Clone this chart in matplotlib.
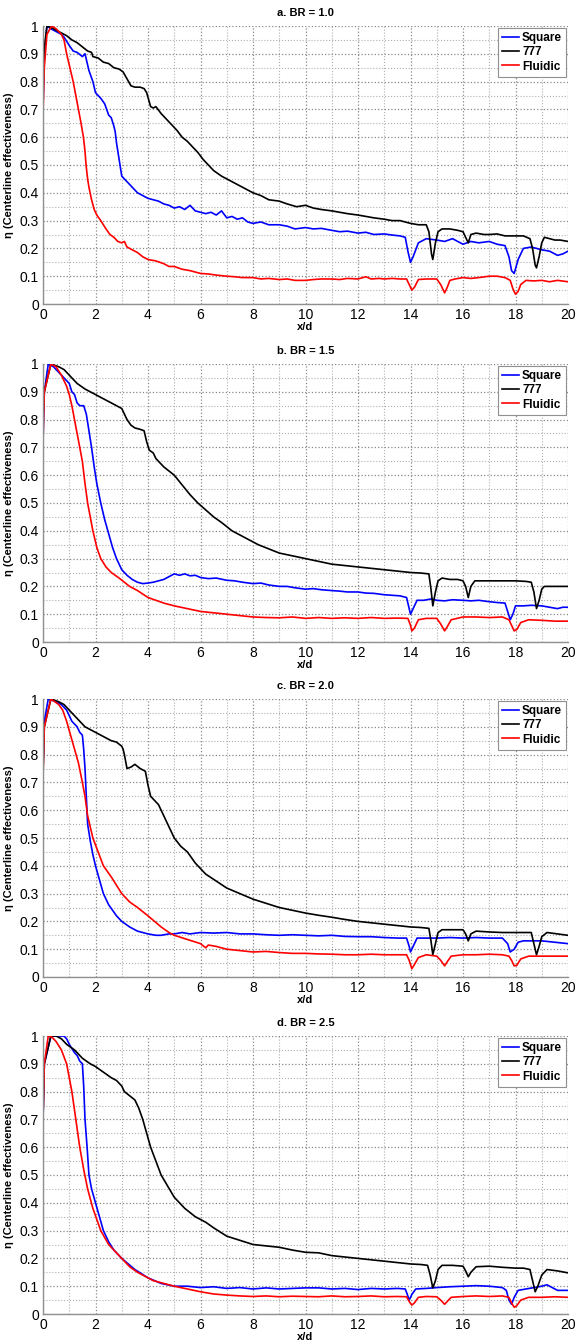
import numpy as np
import matplotlib
matplotlib.use("Agg")
import matplotlib.pyplot as plt
from matplotlib.ticker import MultipleLocator

plt.rcParams['font.family'] = ['Liberation Sans', 'DejaVu Sans']

# panel titles / series
titles = ['a. BR = 1.0', 'b. BR = 1.5', 'c. BR = 2.0', 'd. BR = 2.5']
names = ['Square', '777', 'Fluidic']
colors = ['#0000ff', '#000000', '#ff0000']

# (x/d, eta) pairs
# ---- a. BR = 1.0
a_square = [(0, 0.70), (0.05, 0.9), (0.15, 1.0), (0.3, 0.99), (0.5, 0.98), (0.7, 0.97), (0.8, 0.96), (1.0, 0.93), (1.15, 0.91), (1.3, 0.905), (1.5, 0.89), (1.6, 0.9), (1.65, 0.88), (1.75, 0.84), (1.9, 0.80), (2.0, 0.76), (2.1, 0.75), (2.2, 0.74), (2.35, 0.72), (2.5, 0.68), (2.6, 0.67), (2.7, 0.64), (2.75, 0.62), (2.8, 0.58), (2.9, 0.52),
            (3.0, 0.46), (3.2, 0.44), (3.4, 0.42), (3.6, 0.40), (3.8, 0.39), (4.0, 0.38), (4.2, 0.375), (4.4, 0.37), (4.6, 0.36), (4.8, 0.355), (5.0, 0.345), (5.2, 0.35), (5.4, 0.34), (5.6, 0.355), (5.8, 0.335), (6.0, 0.33), (6.2, 0.325), (6.4, 0.33), (6.6, 0.32), (6.8, 0.335), (7.0, 0.31), (7.2, 0.315), (7.4, 0.305), (7.6, 0.31), (7.8, 0.295), (8.0, 0.29),
            (8.3, 0.295), (8.6, 0.285), (9.0, 0.285), (9.3, 0.28), (9.6, 0.27), (10.0, 0.275), (10.3, 0.27), (10.6, 0.272), (11.0, 0.265), (11.3, 0.26), (11.6, 0.262), (12.0, 0.255), (12.3, 0.258), (12.6, 0.25), (13.0, 0.252), (13.3, 0.248), (13.6, 0.245), (13.8, 0.24), (13.9, 0.19), (14.0, 0.15), (14.1, 0.17), (14.3, 0.22), (14.6, 0.235),
            (15.0, 0.23), (15.3, 0.225), (15.6, 0.235), (16.0, 0.215), (16.3, 0.225), (16.6, 0.22), (17.0, 0.225), (17.3, 0.215), (17.6, 0.21), (17.75, 0.17), (17.85, 0.12), (17.95, 0.11), (18.1, 0.16), (18.3, 0.2), (18.6, 0.205), (19.0, 0.195), (19.3, 0.19), (19.6, 0.175), (19.8, 0.18), (20.0, 0.19)]
a_777 = [(0, 0.75), (0.05, 0.92), (0.15, 1.0), (0.3, 0.995), (0.5, 0.985), (0.7, 0.975), (0.9, 0.965), (1.1, 0.95), (1.3, 0.94), (1.5, 0.925), (1.7, 0.91), (1.85, 0.905), (1.9, 0.89), (2.1, 0.885), (2.3, 0.87), (2.5, 0.865), (2.7, 0.85), (2.9, 0.845), (3.05, 0.835), (3.2, 0.81), (3.35, 0.785), (3.5, 0.78), (3.7, 0.78), (3.85, 0.775), (3.95, 0.76),
         (4.1, 0.71), (4.2, 0.705), (4.3, 0.71), (4.5, 0.685), (4.7, 0.665), (4.9, 0.645), (5.1, 0.625), (5.3, 0.60), (5.5, 0.585), (5.7, 0.565), (5.9, 0.545), (6.1, 0.52), (6.3, 0.5), (6.5, 0.48), (6.8, 0.46), (7.0, 0.45), (7.3, 0.435), (7.6, 0.42), (8.0, 0.40), (8.3, 0.39), (8.6, 0.375), (9.0, 0.37), (9.3, 0.36), (9.66, 0.35),
         (10.0, 0.355), (10.3, 0.345), (10.6, 0.34), (11.0, 0.335), (11.3, 0.33), (11.6, 0.325), (12.0, 0.32), (12.3, 0.315), (12.6, 0.31), (13.0, 0.305), (13.3, 0.3), (13.6, 0.3), (14.0, 0.29), (14.3, 0.285), (14.6, 0.285), (14.7, 0.26), (14.8, 0.18), (14.85, 0.16), (14.95, 0.22), (15.05, 0.26), (15.2, 0.27), (15.5, 0.27), (15.8, 0.265),
         (16.0, 0.26), (16.1, 0.24), (16.2, 0.22), (16.3, 0.25), (16.5, 0.255), (16.8, 0.25), (17.0, 0.25), (17.3, 0.252), (17.6, 0.245), (18.0, 0.245), (18.3, 0.245), (18.55, 0.235), (18.65, 0.2), (18.75, 0.14), (18.8, 0.13), (18.9, 0.17), (19.0, 0.22), (19.1, 0.24), (19.3, 0.235), (19.5, 0.23), (19.7, 0.23), (20.0, 0.225)]
a_fluidic = [(0, 0.68), (0.05, 0.85), (0.15, 0.97), (0.33, 1.0), (0.5, 0.99), (0.7, 0.97), (0.8, 0.95), (0.9, 0.9), (1.0, 0.86), (1.15, 0.8), (1.25, 0.75), (1.35, 0.7), (1.45, 0.65), (1.54, 0.6), (1.6, 0.55), (1.64, 0.5), (1.7, 0.45), (1.75, 0.42), (1.85, 0.375), (1.95, 0.34), (2.05, 0.32), (2.2, 0.3), (2.4, 0.27), (2.55, 0.25),
             (2.7, 0.24), (2.85, 0.225), (3.0, 0.22), (3.1, 0.225), (3.2, 0.205), (3.4, 0.195), (3.6, 0.185), (3.8, 0.17), (4.0, 0.16), (4.3, 0.155), (4.6, 0.145), (4.8, 0.135), (5.0, 0.135), (5.3, 0.125), (5.6, 0.12), (5.8, 0.115), (6.0, 0.11), (6.3, 0.108), (6.6, 0.104), (7.0, 0.1), (7.3, 0.098), (7.6, 0.095), (8.0, 0.095),
             (8.3, 0.09), (8.6, 0.092), (9.0, 0.088), (9.3, 0.09), (9.6, 0.085), (10.0, 0.085), (10.3, 0.088), (10.6, 0.09), (11.0, 0.09), (11.3, 0.088), (11.6, 0.092), (12.0, 0.09), (12.3, 0.098), (12.5, 0.09), (12.8, 0.092), (13.0, 0.09), (13.3, 0.092), (13.6, 0.09), (13.85, 0.09), (13.95, 0.07), (14.05, 0.05), (14.15, 0.06),
             (14.3, 0.088), (14.6, 0.09), (15.0, 0.09), (15.15, 0.07), (15.3, 0.04), (15.4, 0.06), (15.5, 0.085), (15.7, 0.09), (16.0, 0.095), (16.3, 0.092), (16.6, 0.095), (17.0, 0.1), (17.3, 0.1), (17.6, 0.095), (17.8, 0.085), (17.9, 0.055), (18.0, 0.035), (18.1, 0.045), (18.2, 0.07), (18.4, 0.085), (18.7, 0.083), (19.0, 0.085),
             (19.3, 0.08), (19.6, 0.085), (20.0, 0.08)]

# ---- b. BR = 1.5
b_square = [(0, 0.72), (0.05, 0.9), (0.2, 1.0), (0.4, 0.99), (0.6, 0.97), (0.8, 0.95), (1.0, 0.93), (1.1, 0.9), (1.2, 0.89), (1.3, 0.86), (1.4, 0.85), (1.55, 0.85), (1.65, 0.82), (1.75, 0.76), (1.85, 0.70), (1.95, 0.63), (2.05, 0.57), (2.2, 0.50), (2.35, 0.44), (2.5, 0.39), (2.65, 0.34), (2.8, 0.30), (3.0, 0.26), (3.2, 0.24),
            (3.4, 0.225), (3.6, 0.215), (3.8, 0.21), (4.0, 0.212), (4.2, 0.215), (4.4, 0.22), (4.6, 0.225), (4.8, 0.235), (5.0, 0.245), (5.2, 0.24), (5.4, 0.245), (5.6, 0.238), (5.8, 0.24), (6.0, 0.232), (6.3, 0.228), (6.6, 0.23), (7.0, 0.222), (7.3, 0.22), (7.6, 0.215), (8.0, 0.21), (8.3, 0.212), (8.6, 0.205), (9.0, 0.2),
            (9.3, 0.2), (9.6, 0.195), (10.0, 0.19), (10.3, 0.192), (10.6, 0.188), (11.0, 0.185), (11.3, 0.183), (11.6, 0.18), (12.0, 0.18), (12.3, 0.176), (12.6, 0.175), (13.0, 0.17), (13.3, 0.168), (13.6, 0.166), (13.85, 0.16), (13.95, 0.12), (14.0, 0.10), (14.1, 0.12), (14.25, 0.15), (14.5, 0.15), (14.8, 0.155), (15.0, 0.15),
            (15.3, 0.148), (15.6, 0.152), (16.0, 0.15), (16.3, 0.148), (16.6, 0.15), (17.0, 0.145), (17.3, 0.142), (17.6, 0.14), (17.7, 0.11), (17.8, 0.08), (17.9, 0.1), (18.0, 0.13), (18.3, 0.13), (18.6, 0.132), (19.0, 0.13), (19.3, 0.125), (19.6, 0.12), (19.8, 0.125), (20.0, 0.125)]
b_777 = [(0, 0.8), (0.05, 0.9), (0.3, 1.0), (0.6, 0.99), (0.8, 0.98), (1.0, 0.96), (1.3, 0.93), (1.6, 0.91), (2.0, 0.89), (2.3, 0.875), (2.6, 0.86), (2.8, 0.85), (3.0, 0.84), (3.1, 0.82), (3.2, 0.80), (3.35, 0.78), (3.5, 0.77), (3.7, 0.765), (3.85, 0.76), (3.95, 0.72), (4.05, 0.69), (4.2, 0.68), (4.3, 0.66), (4.6, 0.63),
         (5.0, 0.60), (5.3, 0.565), (5.6, 0.53), (5.9, 0.50), (6.2, 0.475), (6.5, 0.45), (6.8, 0.43), (7.2, 0.40), (7.6, 0.38), (8.0, 0.36), (8.2, 0.35), (8.6, 0.335), (9.0, 0.32), (9.5, 0.31), (10.0, 0.3), (10.5, 0.29), (11.0, 0.28), (11.5, 0.275), (12.0, 0.27), (12.5, 0.265), (13.0, 0.26), (13.5, 0.255), (14.0, 0.25),
         (14.4, 0.248), (14.7, 0.245), (14.78, 0.19), (14.85, 0.13), (14.95, 0.18), (15.05, 0.22), (15.2, 0.23), (15.5, 0.225), (15.8, 0.225), (16.0, 0.22), (16.1, 0.2), (16.2, 0.16), (16.3, 0.2), (16.45, 0.22), (16.8, 0.22), (17.2, 0.22), (17.6, 0.22), (18.0, 0.22), (18.4, 0.218), (18.6, 0.215), (18.7, 0.18), (18.8, 0.12),
         (18.9, 0.15), (19.0, 0.19), (19.1, 0.2), (19.5, 0.2), (20.0, 0.2)]
b_fluidic = [(0, 0.72), (0.05, 0.9), (0.3, 1.0), (0.5, 0.99), (0.7, 0.96), (0.9, 0.92), (1.0, 0.89), (1.1, 0.85), (1.2, 0.8), (1.3, 0.75), (1.4, 0.7), (1.5, 0.65), (1.6, 0.57), (1.7, 0.50), (1.8, 0.45), (1.9, 0.40), (2.05, 0.34), (2.2, 0.30), (2.4, 0.27), (2.6, 0.25), (2.9, 0.23), (3.3, 0.20), (3.6, 0.185), (4.0, 0.16),
             (4.3, 0.15), (4.6, 0.14), (5.0, 0.13), (5.5, 0.12), (6.0, 0.11), (6.5, 0.105), (7.0, 0.1), (7.5, 0.095), (8.0, 0.09), (8.5, 0.088), (9.0, 0.087), (9.5, 0.09), (10.0, 0.085), (10.5, 0.088), (11.0, 0.085), (11.5, 0.087), (12.0, 0.085), (12.5, 0.088), (13.0, 0.085), (13.5, 0.086), (13.9, 0.085), (14.0, 0.06),
             (14.05, 0.04), (14.15, 0.05), (14.3, 0.08), (14.6, 0.085), (15.0, 0.085), (15.15, 0.065), (15.3, 0.04), (15.4, 0.055), (15.55, 0.08), (16.0, 0.09), (16.5, 0.09), (17.0, 0.088), (17.5, 0.09), (17.75, 0.08), (17.85, 0.06), (17.95, 0.04), (18.05, 0.045), (18.2, 0.07), (18.5, 0.08), (19.0, 0.078), (19.5, 0.075),
             (20.0, 0.075)]

# ---- c. BR = 2.0
c_square = [(0, 0.75), (0.05, 0.92), (0.2, 1.0), (0.5, 0.99), (0.7, 0.98), (0.9, 0.96), (1.0, 0.94), (1.1, 0.92), (1.2, 0.91), (1.3, 0.9), (1.4, 0.88), (1.5, 0.87), (1.55, 0.82), (1.6, 0.75), (1.65, 0.65), (1.7, 0.55), (1.8, 0.49), (1.9, 0.44), (2.0, 0.40), (2.15, 0.35), (2.3, 0.30), (2.5, 0.26), (2.8, 0.22), (3.0, 0.20),
            (3.3, 0.18), (3.6, 0.165), (3.8, 0.16), (4.0, 0.155), (4.3, 0.15), (4.5, 0.15), (4.8, 0.155), (5.0, 0.155), (5.3, 0.16), (5.6, 0.155), (6.0, 0.16), (6.5, 0.158), (7.0, 0.16), (7.5, 0.155), (8.0, 0.155), (8.5, 0.152), (9.0, 0.15), (9.5, 0.152), (10.0, 0.15), (10.5, 0.148), (11.0, 0.15), (11.5, 0.146), (12.0, 0.145),
            (12.5, 0.145), (13.0, 0.142), (13.5, 0.14), (13.85, 0.14), (13.95, 0.11), (14.0, 0.09), (14.1, 0.11), (14.25, 0.14), (14.6, 0.14), (15.0, 0.14), (15.5, 0.142), (16.0, 0.14), (16.5, 0.142), (17.0, 0.14), (17.5, 0.14), (17.7, 0.12), (17.8, 0.09), (17.95, 0.1), (18.1, 0.125), (18.3, 0.13), (18.6, 0.13), (19.0, 0.13),
            (19.5, 0.125), (20.0, 0.12)]
c_777 = [(0, 0.72), (0.05, 0.9), (0.3, 1.0), (0.6, 0.99), (0.8, 0.98), (1.0, 0.96), (1.2, 0.94), (1.4, 0.92), (1.6, 0.9), (1.8, 0.89), (2.0, 0.88), (2.3, 0.865), (2.6, 0.85), (2.8, 0.845), (3.0, 0.83), (3.05, 0.82), (3.1, 0.80), (3.2, 0.75), (3.35, 0.755), (3.5, 0.765), (3.7, 0.75), (3.9, 0.74), (4.0, 0.69), (4.1, 0.65),
         (4.2, 0.64), (4.4, 0.62), (4.6, 0.58), (4.8, 0.54), (5.0, 0.50), (5.25, 0.47), (5.5, 0.45), (5.8, 0.41), (6.2, 0.37), (6.6, 0.345), (7.0, 0.32), (7.5, 0.30), (8.0, 0.28), (8.5, 0.265), (9.0, 0.25), (9.5, 0.24), (10.0, 0.23), (10.5, 0.222), (11.0, 0.215), (11.5, 0.207), (12.0, 0.2), (12.5, 0.195), (13.0, 0.19),
         (13.5, 0.185), (14.0, 0.18), (14.4, 0.178), (14.7, 0.175), (14.78, 0.13), (14.85, 0.08), (14.95, 0.12), (15.05, 0.16), (15.2, 0.17), (15.6, 0.17), (16.0, 0.17), (16.1, 0.155), (16.2, 0.13), (16.3, 0.155), (16.5, 0.165), (17.0, 0.162), (17.5, 0.16), (18.0, 0.16), (18.4, 0.16), (18.6, 0.16), (18.7, 0.12), (18.8, 0.08),
         (18.9, 0.11), (19.0, 0.145), (19.2, 0.16), (19.6, 0.155), (20.0, 0.15)]
c_fluidic = [(0, 0.72), (0.05, 0.9), (0.3, 1.0), (0.45, 0.99), (0.6, 0.98), (0.75, 0.96), (0.9, 0.92), (1.05, 0.87), (1.2, 0.82), (1.35, 0.77), (1.5, 0.70), (1.6, 0.65), (1.7, 0.58), (1.8, 0.54), (1.9, 0.50), (2.1, 0.45), (2.3, 0.40), (2.6, 0.36), (3.0, 0.30), (3.3, 0.27), (3.6, 0.25), (4.0, 0.22), (4.25, 0.2), (4.5, 0.18),
             (4.8, 0.16), (5.0, 0.15), (5.5, 0.135), (6.0, 0.12), (6.2, 0.105), (6.3, 0.115), (6.6, 0.11), (7.0, 0.1), (7.5, 0.095), (8.0, 0.09), (8.5, 0.092), (9.0, 0.088), (9.5, 0.085), (10.0, 0.085), (10.5, 0.083), (11.0, 0.082), (11.5, 0.08), (12.0, 0.08), (12.5, 0.082), (13.0, 0.08), (13.5, 0.08), (13.85, 0.08),
             (13.95, 0.06), (14.05, 0.03), (14.15, 0.045), (14.3, 0.07), (14.6, 0.08), (15.0, 0.075), (15.15, 0.06), (15.3, 0.04), (15.4, 0.055), (15.55, 0.075), (16.0, 0.08), (16.5, 0.08), (17.0, 0.082), (17.5, 0.08), (17.75, 0.075), (17.85, 0.06), (17.95, 0.04), (18.05, 0.042), (18.2, 0.065), (18.5, 0.075), (19.0, 0.075),
             (19.5, 0.075), (20.0, 0.075)]

# ---- d. BR = 2.5
d_square = [(0, 0.70), (0.05, 0.9), (0.3, 1.0), (0.6, 1.0), (0.8, 1.0), (0.9, 0.99), (1.0, 0.97), (1.1, 0.955), (1.2, 0.94), (1.3, 0.93), (1.4, 0.91), (1.5, 0.9), (1.55, 0.82), (1.6, 0.7), (1.68, 0.6), (1.75, 0.5), (1.85, 0.45), (2.0, 0.4), (2.15, 0.35), (2.3, 0.3), (2.5, 0.26), (2.7, 0.23), (3.0, 0.2), (3.25, 0.18),
            (3.5, 0.16), (3.75, 0.145), (4.0, 0.13), (4.25, 0.12), (4.5, 0.11), (4.75, 0.105), (5.0, 0.1), (5.5, 0.1), (6.0, 0.095), (6.5, 0.098), (7.0, 0.092), (7.5, 0.095), (8.0, 0.09), (8.5, 0.094), (9.0, 0.09), (9.5, 0.092), (10.0, 0.094), (10.5, 0.094), (11.0, 0.09), (11.5, 0.092), (12.0, 0.088), (12.5, 0.092),
            (13.0, 0.09), (13.5, 0.092), (13.8, 0.09), (13.88, 0.07), (13.95, 0.05), (14.05, 0.07), (14.2, 0.09), (14.6, 0.092), (15.0, 0.095), (15.5, 0.098), (16.0, 0.1), (16.5, 0.102), (17.0, 0.1), (17.5, 0.095), (17.65, 0.085), (17.75, 0.05), (17.85, 0.035), (17.95, 0.06), (18.1, 0.085), (18.4, 0.09), (18.7, 0.095),
            (19.0, 0.1), (19.2, 0.105), (19.4, 0.095), (19.6, 0.085), (20.0, 0.085)]
d_777 = [(0, 0.70), (0.05, 0.9), (0.3, 1.0), (0.5, 1.0), (0.7, 0.99), (0.9, 0.97), (1.2, 0.95), (1.5, 0.92), (1.8, 0.9), (2.0, 0.89), (2.3, 0.87), (2.6, 0.85), (2.8, 0.84), (3.0, 0.82), (3.1, 0.8), (3.3, 0.785), (3.5, 0.77), (3.65, 0.74), (3.8, 0.7), (3.95, 0.65), (4.1, 0.6), (4.3, 0.55), (4.5, 0.5), (4.75, 0.46),
         (5.0, 0.42), (5.4, 0.38), (5.8, 0.35), (6.2, 0.33), (6.5, 0.31), (7.0, 0.28), (7.5, 0.265), (8.0, 0.25), (8.5, 0.245), (9.0, 0.24), (9.5, 0.23), (10.0, 0.222), (10.5, 0.22), (11.0, 0.21), (11.5, 0.205), (12.0, 0.2), (12.5, 0.195), (13.0, 0.19), (13.5, 0.185), (14.0, 0.18), (14.4, 0.178), (14.65, 0.175),
         (14.75, 0.14), (14.85, 0.094), (14.95, 0.12), (15.05, 0.16), (15.2, 0.175), (15.6, 0.175), (16.0, 0.172), (16.1, 0.155), (16.2, 0.134), (16.3, 0.15), (16.5, 0.17), (17.0, 0.172), (17.5, 0.168), (18.0, 0.165), (18.3, 0.165), (18.55, 0.16), (18.65, 0.12), (18.75, 0.08), (18.85, 0.1), (19.0, 0.14), (19.2, 0.16),
         (19.6, 0.155), (20.0, 0.148)]
d_fluidic = [(0, 0.70), (0.05, 0.9), (0.2, 1.0), (0.35, 0.995), (0.5, 0.98), (0.7, 0.95), (0.9, 0.9), (1.0, 0.85), (1.1, 0.8), (1.25, 0.7), (1.4, 0.6), (1.55, 0.52), (1.7, 0.45), (1.9, 0.38), (2.2, 0.3), (2.5, 0.25), (3.0, 0.2), (3.3, 0.17), (3.6, 0.15), (3.9, 0.135), (4.2, 0.12), (4.6, 0.11), (5.0, 0.1), (5.5, 0.09),
             (6.0, 0.08), (6.5, 0.072), (7.0, 0.068), (7.5, 0.065), (8.0, 0.063), (8.5, 0.065), (9.0, 0.062), (9.5, 0.064), (10.0, 0.063), (10.5, 0.062), (11.0, 0.065), (11.5, 0.062), (12.0, 0.063), (12.5, 0.065), (13.0, 0.062), (13.5, 0.063), (13.85, 0.062), (13.95, 0.045), (14.05, 0.032), (14.15, 0.04), (14.3, 0.06),
             (14.6, 0.063), (15.0, 0.062), (15.15, 0.05), (15.3, 0.035), (15.4, 0.045), (15.55, 0.06), (16.0, 0.063), (16.5, 0.065), (17.0, 0.063), (17.5, 0.065), (17.75, 0.06), (17.85, 0.04), (17.95, 0.024), (18.05, 0.03), (18.2, 0.05), (18.5, 0.06), (19.0, 0.06), (19.5, 0.062), (20.0, 0.06)]

panels = [
    [a_square, a_777, a_fluidic],
    [b_square, b_777, b_fluidic],
    [c_square, c_777, c_fluidic],
    [d_square, d_777, d_fluidic],
]

W, H = 576, 1341
fig = plt.figure(figsize=(W / 100, H / 100), dpi=100)
tops = [26, 364, 699, 1036]
ax_h = 278
left, right = 43, 568

for i, series in enumerate(panels):
    ax = fig.add_axes([left / W, 1 - (tops[i] + ax_h) / H, (right - left) / W, ax_h / H])
    for pts, nm, c in zip(series, names, colors):
        arr = np.array(pts)
        ax.plot(arr[:, 0], arr[:, 1], color=c, lw=1.2, label=nm)
    ax.set_xlim(0, 20)
    ax.set_ylim(0, 1)
    ax.xaxis.set_major_locator(MultipleLocator(2))
    ax.xaxis.set_minor_locator(MultipleLocator(1))
    ax.yaxis.set_minor_locator(MultipleLocator(0.05))
    ax.set_yticks(np.arange(0, 1.01, 0.1))
    ax.set_yticklabels(['0', '0.1', '0.2', '0.3', '0.4', '0.5', '0.6', '0.7', '0.8', '0.9', '1'])
    ax.grid(which='major', ls=':', color='#888888', lw=0.9)
    ax.grid(which='minor', ls=':', color='#b0b0b0', lw=0.8)
    ax.set_axisbelow(True)
    ax.tick_params(which='both', length=0, labelsize=10, pad=3)
    for s in ['top', 'right']:
        ax.spines[s].set_visible(False)
    for s in ['left', 'bottom']:
        ax.spines[s].set_color('#909090')
        ax.spines[s].set_linewidth(1.0)
    ax.set_title(titles[i], fontsize=8, fontweight='bold', pad=7)
    ax.set_xlabel('x/d', fontsize=8, fontweight='bold', labelpad=0)
    ax.set_ylabel('η (Centerline effectiveness)', fontsize=8, fontweight='bold', labelpad=4)
    leg = ax.legend(loc='upper right', prop={'weight': 'bold', 'size': 8.5},
                    handlelength=1.4, handletextpad=0.3, borderpad=0.35, labelspacing=0.2,
                    borderaxespad=0.15, fancybox=False, framealpha=1)
    leg.get_frame().set_edgecolor('#909090')
    leg.get_frame().set_linewidth(0.8)

fig.savefig('out.png', dpi=100)
